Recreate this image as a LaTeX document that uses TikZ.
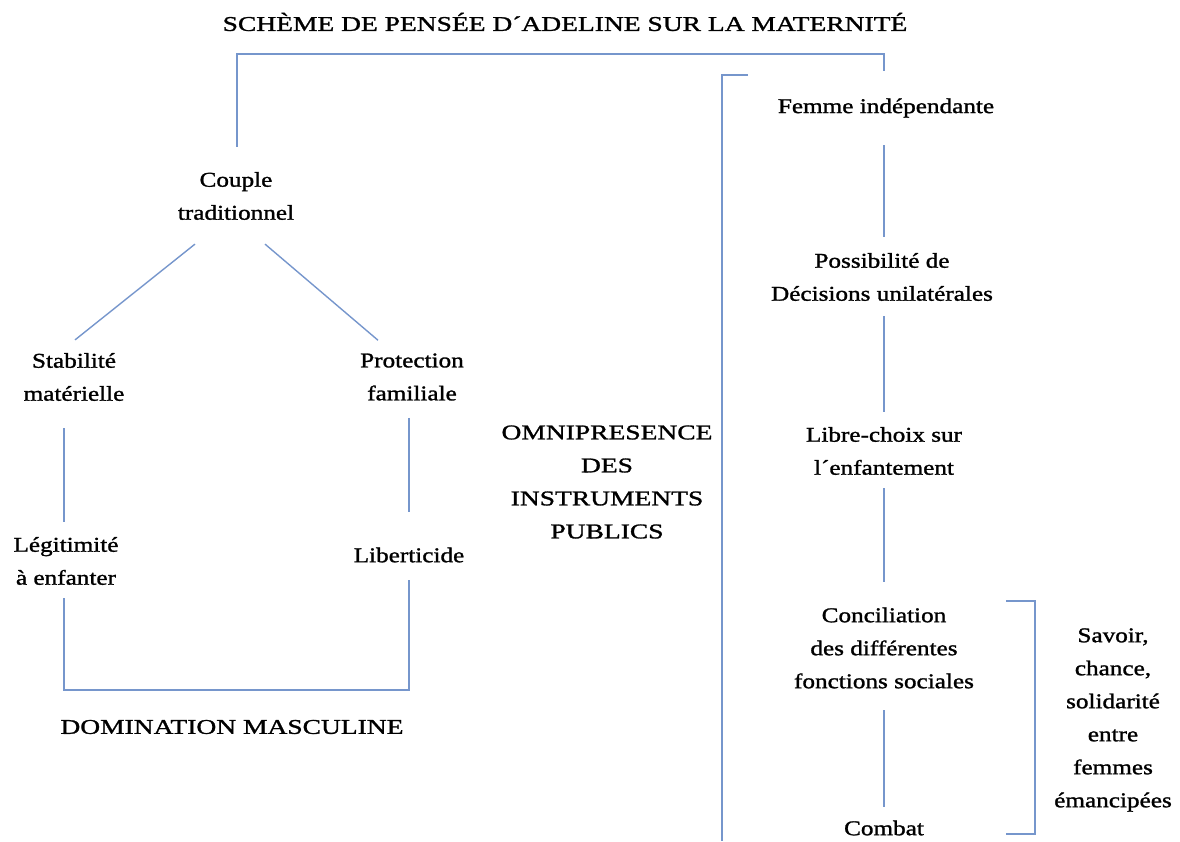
\documentclass[tikz,border=0pt]{standalone}
\usepackage{fontspec}
\setmainfont{Liberation Serif}[FakeStretch=1.2,FakeBold=1.3]
\newfontfamily\capsfont{Liberation Serif}[FakeStretch=1.31,FakeBold=1.3]
\definecolor{linkblue}{RGB}{118,150,204}
\begin{document}
\begin{tikzpicture}[x=1pt,y=-1pt,
  lbl/.style={inner sep=0pt,align=center,font=\fontsize{21}{33}\selectfont},
  caps/.style={lbl,font=\capsfont\fontsize{21}{33}\selectfont},
  link/.style={draw=linkblue,line width=1.4pt}]
\useasboundingbox (0,0) rectangle (1180,841);
% title
\node[caps] (title) at (565,22) {SCHÈME DE PENSÉE D´ADELINE SUR LA MATERNITÉ};
% left branch
\node[lbl] (couple) at (236,196) {Couple\\traditionnel};
\node[lbl] (stab) at (74,377) {Stabilité\\matérielle};
\node[lbl] (prot) at (412,377) {Protection\\familiale};
\node[lbl] (leg) at (66,561) {Légitimité\\à enfanter};
\node[lbl] (lib) at (409,555) {Liberticide};
\node[caps] (dom) at (232,727) {DOMINATION MASCULINE};
% middle
\node[caps] (omni) at (607,482) {OMNIPRESENCE\\DES\\INSTRUMENTS\\PUBLICS};
% right branch
\node[lbl] (fem) at (886,108) {Femme indépendante};
\node[lbl] (pos) at (882,277) {Possibilité de\\Décisions unilatérales};
\node[lbl] (libre) at (884,451) {Libre-choix sur\\l´enfantement};
\node[lbl] (conc) at (884,648) {Conciliation\\des différentes\\fonctions sociales};
\node[lbl] (comb) at (884,828) {Combat};
\node[lbl] (sav) at (1113,720) {Savoir,\\chance,\\solidarité\\entre\\femmes\\émancipées};
% connectors
\draw[link] ([shift={(1,-25)}]couple.north) -- ++(0,-93) -| ([shift={(-2,-27)}]fem.north);
\draw[link] ([shift={(-41,24)}]couple.south) -- ([shift={(1,-13)}]stab.north);
\draw[link] ([shift={(29,24)}]couple.south) -- ([shift={(-34,-13)}]prot.north);
\draw[link] ([shift={(-10,27)}]stab.south) -- ([shift={(-2,-15)}]leg.north);
\draw[link] ([shift={(-3,17)}]prot.south) -- ([shift={(0,-35.5)}]lib.north);
\draw[link] ([shift={(-2,13)}]leg.south) -- ++(0,92) -| ([shift={(0,17.5)}]lib.south);
\draw[link] ([shift={(-2,27.5)}]fem.south) -- ([shift={(2,-16)}]pos.north);
\draw[link] ([shift={(2,15)}]pos.south) -- ([shift={(0,-15)}]libre.north);
\draw[link] ([shift={(0,13)}]libre.south) -- ([shift={(0,-25.5)}]conc.north);
\draw[link] ([shift={(0,21.5)}]conc.south) -- ([shift={(0,-13.5)}]comb.north);
% brackets
\draw[link] (748,75) -- (722,75) -- (722,841);
\draw[link] (1006,601) -- (1035,601) -- (1035,834) -- (1006,834);
\end{tikzpicture}
\end{document}
